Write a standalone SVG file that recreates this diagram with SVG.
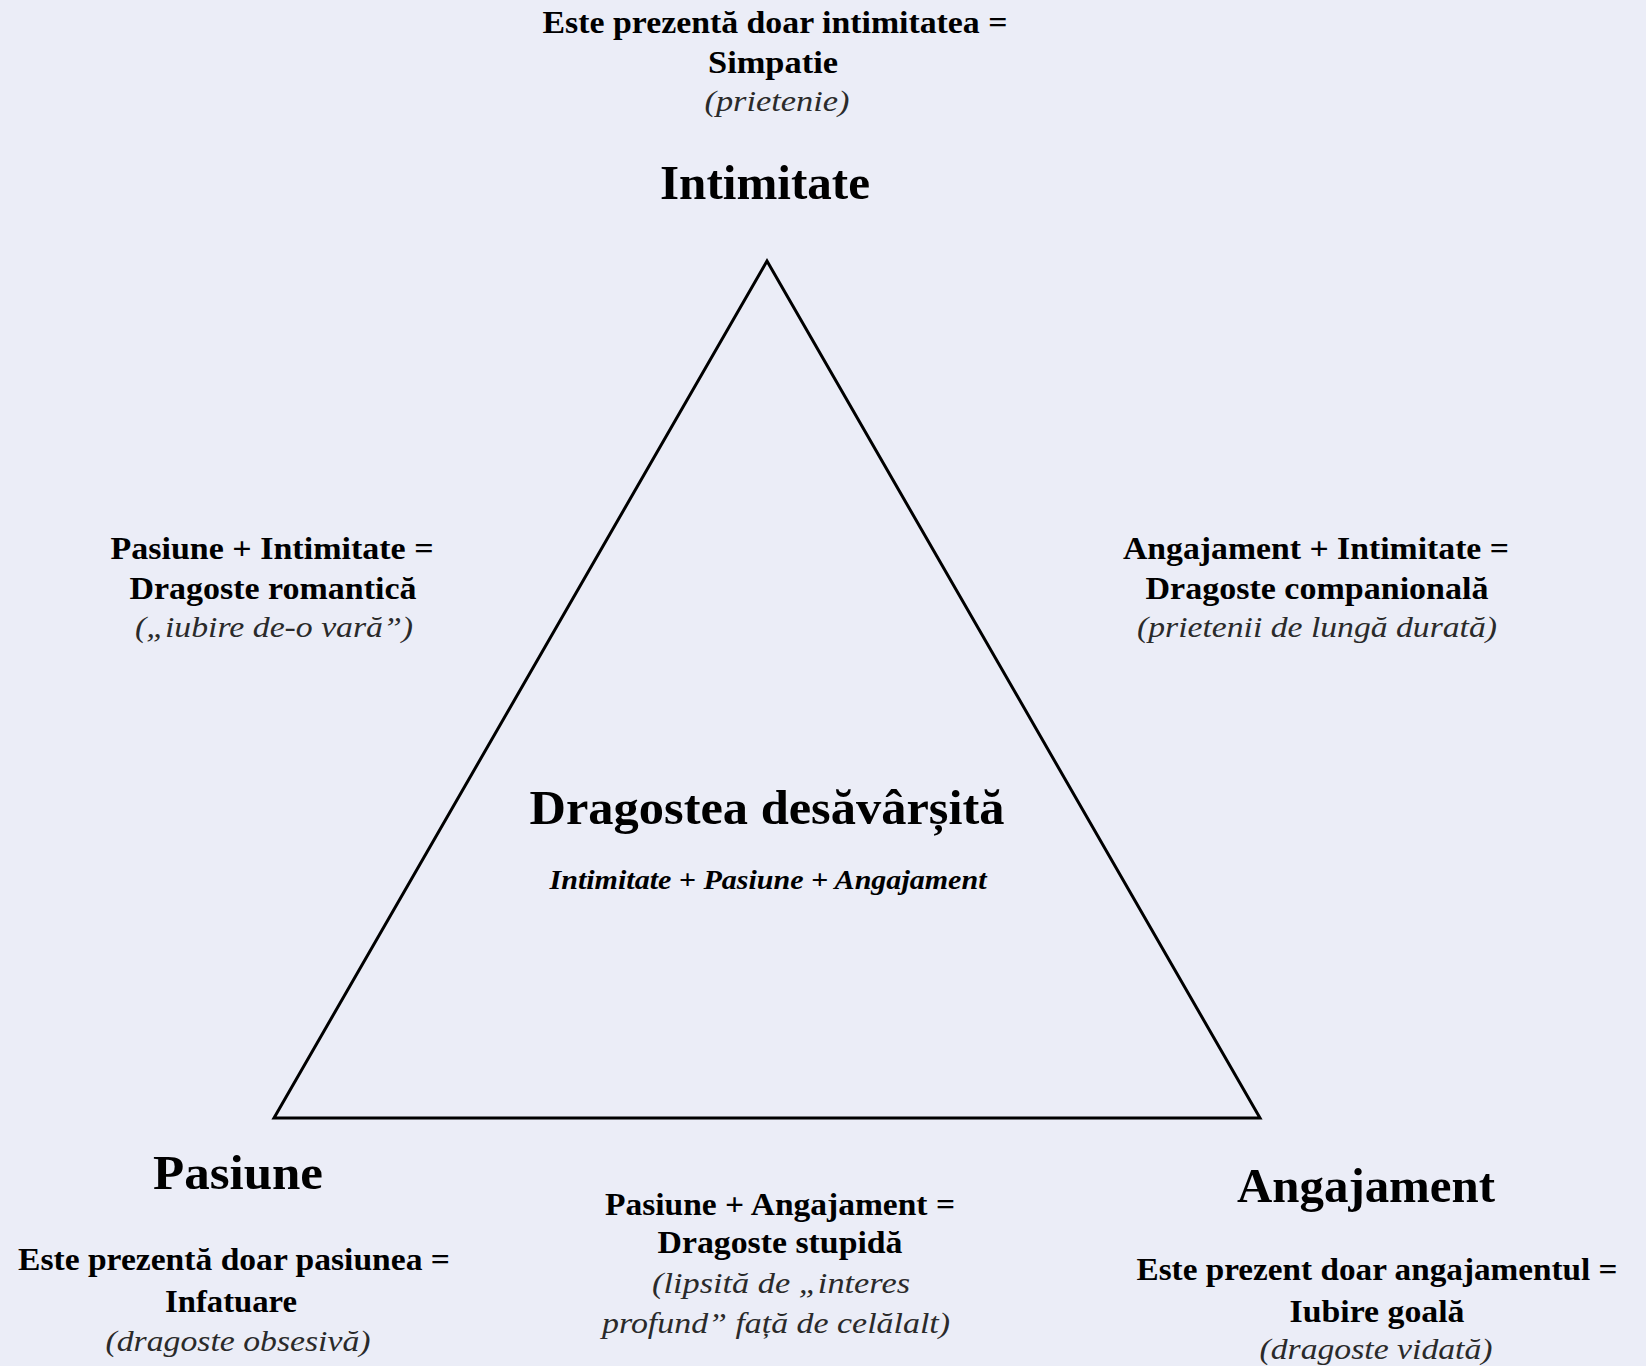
<svg xmlns="http://www.w3.org/2000/svg" width="1646" height="1366" viewBox="0 0 1646 1366">
<style>
text{font-family:"Liberation Serif","Times New Roman",serif;text-anchor:middle;fill:#000}
.b{font-weight:bold;font-size:31px}
.i{font-style:italic;font-size:30px;fill:#2a2a2a}
.h{font-weight:bold;font-size:48px}
.bi{font-weight:bold;font-style:italic;font-size:27px}
</style>
<rect width="1646" height="1366" fill="#ebedf7"/>
<g id="connectors">
<polygon points="767,261 274,1118 1260,1118" fill="none" stroke="#000" stroke-width="3" stroke-linejoin="miter"/>
</g>
<g id="intimitate">
<text class="b" x="775" y="33" textLength="465" lengthAdjust="spacingAndGlyphs">Este prezentă doar intimitatea =</text>
<text class="b" x="773" y="73" textLength="130" lengthAdjust="spacingAndGlyphs">Simpatie</text>
<text class="i" x="777" y="111" textLength="145" lengthAdjust="spacingAndGlyphs">(prietenie)</text>
<text class="h" x="765" y="199" textLength="210" lengthAdjust="spacingAndGlyphs">Intimitate</text>
</g>
<g id="romantica">
<text class="b" x="272" y="559" textLength="323" lengthAdjust="spacingAndGlyphs">Pasiune + Intimitate =</text>
<text class="b" x="273" y="599" textLength="287" lengthAdjust="spacingAndGlyphs">Dragoste romantică</text>
<text class="i" x="274" y="637" textLength="278" lengthAdjust="spacingAndGlyphs">(„iubire de-o vară”)</text>
</g>
<g id="companionala">
<text class="b" x="1316" y="559" textLength="386" lengthAdjust="spacingAndGlyphs">Angajament + Intimitate =</text>
<text class="b" x="1317" y="599" textLength="343" lengthAdjust="spacingAndGlyphs">Dragoste companională</text>
<text class="i" x="1317" y="637" textLength="360" lengthAdjust="spacingAndGlyphs">(prietenii de lungă durată)</text>
</g>
<g id="desavarsita">
<text class="h" x="767" y="824" textLength="475" lengthAdjust="spacingAndGlyphs">Dragostea desăvârșită</text>
<text class="bi" x="768" y="889" textLength="437" lengthAdjust="spacingAndGlyphs">Intimitate + Pasiune + Angajament</text>
</g>
<g id="pasiune">
<text class="h" x="238" y="1189" textLength="170" lengthAdjust="spacingAndGlyphs">Pasiune</text>
<text class="b" x="234" y="1270" textLength="432" lengthAdjust="spacingAndGlyphs">Este prezentă doar pasiunea =</text>
<text class="b" x="231" y="1312" textLength="132" lengthAdjust="spacingAndGlyphs">Infatuare</text>
<text class="i" x="238" y="1351" textLength="265" lengthAdjust="spacingAndGlyphs">(dragoste obsesivă)</text>
</g>
<g id="stupida">
<text class="b" x="780" y="1215" textLength="350" lengthAdjust="spacingAndGlyphs">Pasiune + Angajament =</text>
<text class="b" x="780" y="1253" textLength="245" lengthAdjust="spacingAndGlyphs">Dragoste stupidă</text>
<text class="i" x="781" y="1293" textLength="258" lengthAdjust="spacingAndGlyphs">(lipsită de „interes</text>
<text class="i" x="776" y="1333" textLength="348" lengthAdjust="spacingAndGlyphs">profund” față de celălalt)</text>
</g>
<g id="angajament">
<text class="h" x="1366" y="1202" textLength="258" lengthAdjust="spacingAndGlyphs">Angajament</text>
<text class="b" x="1377" y="1280" textLength="481" lengthAdjust="spacingAndGlyphs">Este prezent doar angajamentul =</text>
<text class="b" x="1377" y="1322" textLength="175" lengthAdjust="spacingAndGlyphs">Iubire goală</text>
<text class="i" x="1376" y="1359" textLength="233" lengthAdjust="spacingAndGlyphs">(dragoste vidată)</text>
</g>
</svg>
